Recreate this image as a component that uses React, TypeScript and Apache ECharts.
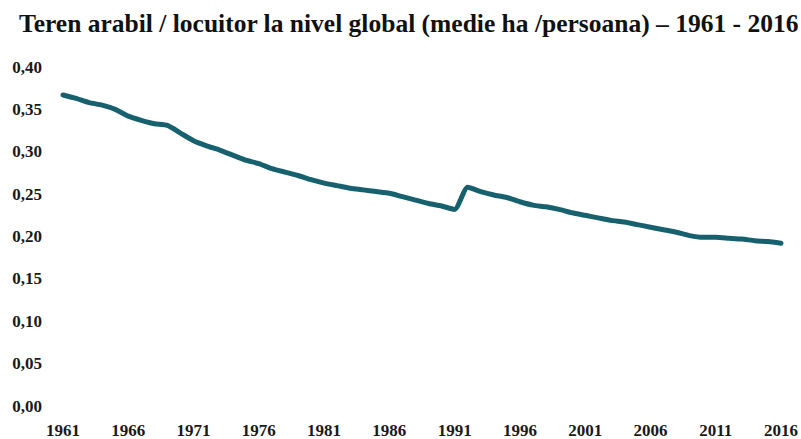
import React, { useEffect, useRef } from "react";
import * as echarts from "echarts";

const title = "Teren arabil / locuitor la nivel global (medie ha /persoana) – 1961 - 2016";

const years: string[] = [];
for (let y = 1961; y <= 2016; y++) years.push(String(y));

const arableLandPerCapita = [
  0.367, 0.363, 0.358, 0.355, 0.350, 0.342, 0.337, 0.333, 0.331, 0.322,
  0.313, 0.307, 0.302, 0.296, 0.290, 0.286, 0.280, 0.276, 0.272, 0.267,
  0.263, 0.260, 0.257, 0.255, 0.253, 0.251, 0.247, 0.243, 0.239, 0.236,
  0.232, 0.258, 0.253, 0.249, 0.246, 0.241, 0.237, 0.235, 0.232, 0.228,
  0.225, 0.222, 0.219, 0.217, 0.214, 0.211, 0.208, 0.205, 0.201, 0.199,
  0.199, 0.198, 0.197, 0.195, 0.194, 0.192,
];

const yMin = 0;
const yMax = 0.4;
const yStep = 0.05;

export default function App() {
  const ref = useRef<HTMLDivElement>(null);
  useEffect(() => {
    if (!ref.current) return;
    const chart = echarts.init(ref.current, null, { renderer: "svg" });
    const serif = "'Liberation Serif', 'Times New Roman', serif";
    chart.setOption({
      animation: false,
      backgroundColor: "#ffffff",
      title: {
        text: title,
        left: 14,
        top: 5,
        textStyle: {
          fontFamily: serif,
          fontWeight: "bold",
          fontSize: 25.5,
          color: "#111111",
        },
      },
      grid: { left: 63, right: 15, top: 67, bottom: 30, containLabel: false },
      xAxis: {
        type: "category",
        data: years,
        boundaryGap: false,
        axisLine: { show: false },
        axisTick: { show: false },
        splitLine: { show: false },
        axisLabel: {
          interval: 4,
          margin: 16,
          fontFamily: serif,
          fontWeight: "bold",
          fontSize: 17,
          color: "#1a1a1a",
        },
      },
      yAxis: {
        type: "value",
        min: yMin,
        max: yMax,
        interval: yStep,
        axisLine: { show: false },
        axisTick: { show: false },
        splitLine: { show: false },
        axisLabel: {
          margin: 21,
          fontFamily: serif,
          fontWeight: "bold",
          fontSize: 17,
          color: "#1a1a1a",
          formatter: (v: number) => v.toFixed(2).replace(".", ","),
        },
      },
      series: [
        {
          type: "line",
          data: arableLandPerCapita,
          symbol: "none",
          smooth: 0.2,
          lineStyle: { color: "#17606e", width: 5, cap: "round", join: "round" },
        },
      ],
    });
    return () => chart.dispose();
  }, []);
  return (
    <div
      ref={ref}
      style={{ position: "absolute", left: 0, top: 0, width: 801, height: 439 }}
    />
  );
}
